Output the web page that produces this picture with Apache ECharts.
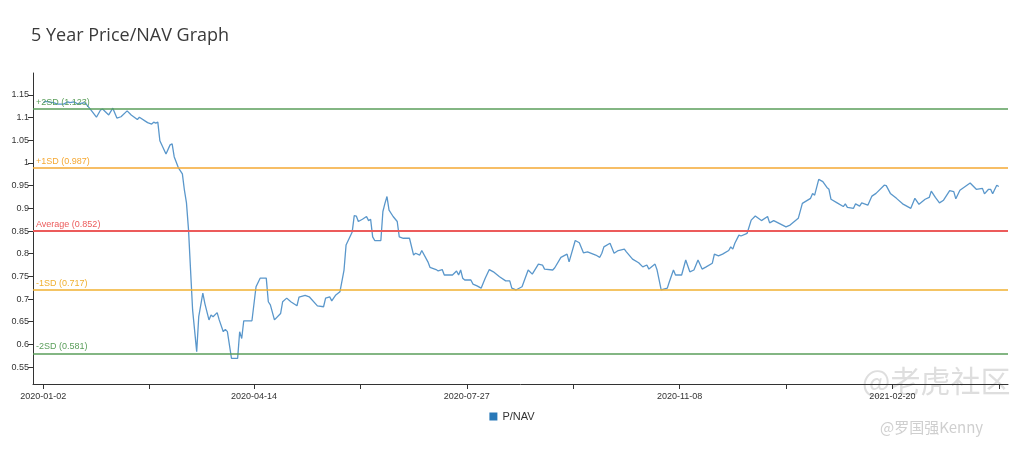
<!DOCTYPE html>
<html>
<head>
<meta charset="utf-8">
<script src="https://cdn.jsdelivr.net/npm/echarts@6/dist/echarts.min.js"></script>
<style>
html,body{margin:0;padding:0;background:#fff;}
#c{width:1024px;height:452px;}
</style>
</head>
<body>
<div id="c"></div>
<script>
const title = '5 Year Price/NAV Graph';
const seriesName = 'P/NAV';
const dates = [
'2020-01-02','2020-01-03','2020-01-07','2020-01-09','2020-01-12','2020-01-14','2020-01-15','2020-01-17','2020-01-19','2020-01-22',
'2020-01-23','2020-01-25','2020-01-28','2020-01-30','2020-01-31','2020-02-03','2020-02-05','2020-02-07','2020-02-09','2020-02-12',
'2020-02-14','2020-02-17','2020-02-18','2020-02-22','2020-02-24','2020-02-25','2020-02-26','2020-02-27','2020-02-28','2020-03-02',
'2020-03-04','2020-03-05','2020-03-06','2020-03-08','2020-03-10','2020-03-11','2020-03-12','2020-03-13','2020-03-14','2020-03-15',
'2020-03-17','2020-03-18','2020-03-20','2020-03-21','2020-03-23','2020-03-24','2020-03-25','2020-03-27','2020-03-28','2020-03-30',
'2020-03-31','2020-04-01','2020-04-03','2020-04-06','2020-04-07','2020-04-08','2020-04-09','2020-04-13','2020-04-15','2020-04-17',
'2020-04-20','2020-04-21','2020-04-22','2020-04-24','2020-04-27','2020-04-28','2020-04-30','2020-05-02','2020-05-05','2020-05-06',
'2020-05-09','2020-05-11','2020-05-15','2020-05-18','2020-05-19','2020-05-21','2020-05-22','2020-05-24','2020-05-26','2020-05-28',
'2020-05-29','2020-06-01','2020-06-02','2020-06-03','2020-06-04','2020-06-06','2020-06-08','2020-06-09','2020-06-10','2020-06-11',
'2020-06-12','2020-06-15','2020-06-16','2020-06-17','2020-06-18','2020-06-19','2020-06-21','2020-06-23','2020-06-24','2020-06-26',
'2020-06-29','2020-07-01','2020-07-02','2020-07-04','2020-07-05','2020-07-08','2020-07-09','2020-07-12','2020-07-13','2020-07-15',
'2020-07-16','2020-07-20','2020-07-22','2020-07-23','2020-07-24','2020-07-25','2020-07-26','2020-07-29','2020-07-30','2020-08-01',
'2020-08-03','2020-08-05','2020-08-07','2020-08-09','2020-08-12','2020-08-15','2020-08-17','2020-08-18','2020-08-20','2020-08-23',
'2020-08-26','2020-08-28','2020-08-31','2020-09-02','2020-09-03','2020-09-07','2020-09-08','2020-09-11','2020-09-14','2020-09-15',
'2020-09-18','2020-09-20','2020-09-22','2020-09-24','2020-09-28','2020-09-30','2020-10-01','2020-10-02','2020-10-05','2020-10-07',
'2020-10-09','2020-10-12','2020-10-13','2020-10-16','2020-10-19','2020-10-21','2020-10-23','2020-10-24','2020-10-27','2020-10-28',
'2020-10-30','2020-11-02','2020-11-03','2020-11-05','2020-11-06','2020-11-09','2020-11-11','2020-11-13','2020-11-15','2020-11-17',
'2020-11-19','2020-11-21','2020-11-24','2020-11-25','2020-11-27','2020-11-29','2020-12-02','2020-12-03','2020-12-04','2020-12-05',
'2020-12-07','2020-12-08','2020-12-11','2020-12-13','2020-12-15','2020-12-18','2020-12-21','2020-12-22','2020-12-24','2020-12-30',
'2021-01-01','2021-01-05','2021-01-07','2021-01-11','2021-01-12','2021-01-13','2021-01-15','2021-01-17','2021-01-19','2021-01-20',
'2021-01-21','2021-01-24','2021-01-27','2021-01-28','2021-01-29','2021-02-01','2021-02-02','2021-02-04','2021-02-05','2021-02-08',
'2021-02-10','2021-02-12','2021-02-16','2021-02-17','2021-02-19','2021-02-22','2021-02-25','2021-03-01','2021-03-03','2021-03-05',
'2021-03-08','2021-03-10','2021-03-11','2021-03-13','2021-03-15','2021-03-17','2021-03-20','2021-03-22','2021-03-23','2021-03-25',
'2021-03-30','2021-04-02','2021-04-05','2021-04-06','2021-04-08','2021-04-09','2021-04-10','2021-04-12','2021-04-13'
];
const pnav = [
1.133,1.136,1.133,1.130,1.130,1.135,1.133,1.135,1.130,1.133,
1.130,1.119,1.101,1.117,1.119,1.106,1.121,1.099,1.102,1.115,
1.106,1.096,1.101,1.089,1.086,1.090,1.088,1.090,1.049,1.020,
1.040,1.042,1.014,0.990,0.976,0.940,0.912,0.853,0.764,0.676,
0.584,0.661,0.713,0.690,0.654,0.665,0.661,0.670,0.654,0.628,
0.633,0.628,0.569,0.569,0.628,0.613,0.652,0.652,0.727,0.746,
0.746,0.694,0.687,0.654,0.668,0.694,0.702,0.694,0.685,0.704,
0.708,0.705,0.685,0.683,0.702,0.705,0.696,0.709,0.716,0.764,
0.819,0.848,0.884,0.883,0.871,0.876,0.882,0.873,0.876,0.837,
0.829,0.829,0.893,0.911,0.926,0.896,0.882,0.871,0.837,0.834,
0.834,0.797,0.801,0.797,0.807,0.782,0.770,0.765,0.762,0.765,
0.753,0.753,0.762,0.753,0.764,0.746,0.742,0.742,0.733,0.729,
0.724,0.746,0.765,0.760,0.749,0.740,0.740,0.724,0.720,0.727,
0.764,0.755,0.777,0.775,0.766,0.764,0.769,0.792,0.799,0.782,
0.829,0.824,0.802,0.804,0.797,0.792,0.801,0.815,0.823,0.801,
0.807,0.810,0.804,0.788,0.780,0.771,0.775,0.766,0.777,0.764,
0.720,0.724,0.738,0.764,0.753,0.753,0.786,0.760,0.764,0.786,
0.766,0.771,0.779,0.799,0.795,0.799,0.807,0.815,0.810,0.823,
0.841,0.839,0.845,0.874,0.883,0.873,0.882,0.868,0.873,0.859,
0.863,0.878,0.911,0.922,0.933,0.929,0.964,0.959,0.946,0.942,
0.920,0.912,0.904,0.910,0.902,0.900,0.910,0.905,0.912,0.907,
0.927,0.933,0.951,0.950,0.933,0.922,0.910,0.900,0.922,0.909,
0.920,0.924,0.938,0.924,0.912,0.918,0.939,0.937,0.921,0.940,
0.956,0.942,0.944,0.932,0.942,0.942,0.932,0.951,0.948
];
const refNames = ['+2SD','+1SD','Average','-1SD','-2SD'];
const refValues = [1.123, 0.987, 0.852, 0.717, 0.581];
const refColors = ['#5a9e5a','#f5a833','#ec5b5b','#f0b030','#5a9e5a'];
const refWidths = [1.5, 1.5, 2, 1.5, 1.5];
const yTicks = [0.55,0.6,0.65,0.7,0.75,0.8,0.85,0.9,0.95,1,1.05,1.1,1.15];
const xTicks = ['2020-01-02','2020-02-23','2020-04-14','2020-06-05','2020-07-27','2020-09-17','2020-11-08','2020-12-30','2021-02-20','2021-04-13'];
const xLabels = ['2020-01-02','2020-04-14','2020-07-27','2020-11-08','2021-02-20'];
const xMin = '2019-12-28T00:00:00Z';
const xMax = '2021-04-17T12:00:00Z';
const yMin = 0.5126, yMax = 1.1985;

const ts = s => Date.parse(s.length === 10 ? s + 'T00:00:00Z' : s);
const fmtDate = v => {
  const d = new Date(Math.round(v));
  const p = n => (n < 10 ? '0' : '') + n;
  return d.getUTCFullYear() + '-' + p(d.getUTCMonth() + 1) + '-' + p(d.getUTCDate());
};

const chart = echarts.init(document.getElementById('c'), null, {renderer:'canvas'});
const axisFont = {fontFamily:'Liberation Sans, Arial, sans-serif', fontSize:9, color:'#333'};
chart.setOption({
  animation:false,
  title:{text:title,left:26,top:22,textStyle:{fontFamily:'Open Sans',fontWeight:'normal',fontSize:18,color:'#3a3a3a'}},
  legend:{data:[seriesName],left:'center',top:406,itemWidth:8,itemHeight:8,icon:'rect',itemGap:6,
    textStyle:{fontFamily:'Liberation Sans, Arial, sans-serif',fontSize:11,color:'#333'}},
  grid:{left:33,right:16,top:73,bottom:68},
  xAxis:{type:'value',min:ts(xMin),max:ts(xMax),
    axisLine:{lineStyle:{color:'#333',width:1}},
    axisTick:{show:true,customValues:xTicks.map(ts),length:5,lineStyle:{color:'#333'}},
    axisLabel:Object.assign({customValues:xLabels.map(ts),margin:8,formatter:fmtDate},axisFont),
    splitLine:{show:false}},
  yAxis:{type:'value',min:yMin,max:yMax,
    axisLine:{show:true,lineStyle:{color:'#333',width:1}},
    axisTick:{show:true,customValues:yTicks,length:5,lineStyle:{color:'#333'}},
    axisLabel:Object.assign({customValues:yTicks,margin:4,formatter:v=>String(Math.round(v*100)/100)},axisFont),
    splitLine:{show:false}},
  series:[{
    name:seriesName,type:'line',showSymbol:false,symbol:'none',
    itemStyle:{color:'#2878b8'},
    lineStyle:{color:'#5a97cb',width:1.3},
    data:dates.map((d,i)=>[ts(d),pnav[i]]),
    markLine:{silent:true,symbol:['none','none'],animation:false,
      data:refValues.map((v,i)=>({yAxis:v,
        lineStyle:{color:refColors[i],width:refWidths[i],type:'solid',opacity:1},
        label:{show:true,position:'insideStartTop',distance:[3,2],formatter:refNames[i]+' ('+v.toFixed(3)+')',
          color:refColors[i],fontSize:9,fontFamily:'Liberation Sans, Arial, sans-serif'}}))}
  }],
  graphic:[
    {type:'text',left:862,top:366,style:{text:'@老虎社区',fontSize:30,fontFamily:'Noto Sans CJK SC',fill:'rgba(160,160,160,0.35)'}},
    {type:'text',left:880,top:420,style:{text:'@罗国强Kenny',fontSize:15,fontFamily:'Noto Sans CJK SC',fill:'rgba(160,160,160,0.5)'}}
  ]
});
</script>
</body>
</html>
